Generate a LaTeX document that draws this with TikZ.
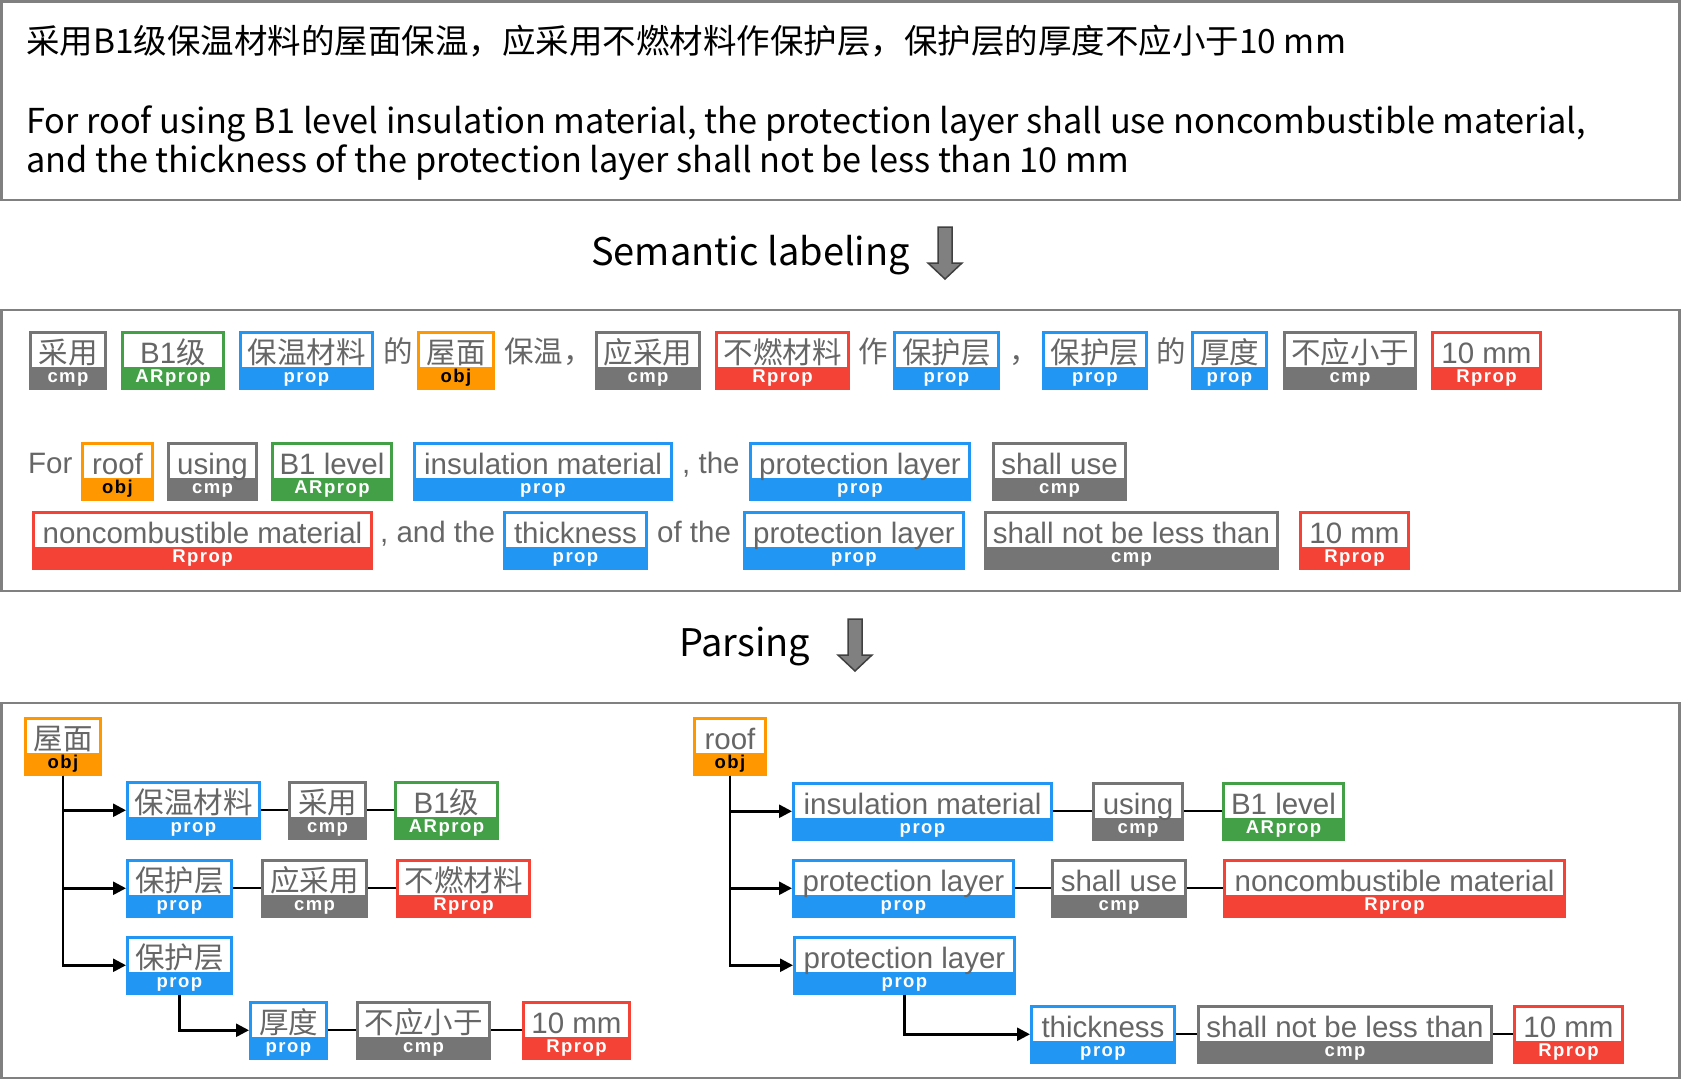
\documentclass[tikz,border=0pt]{standalone}
\usepackage{fontspec}
\setmainfont{Noto Sans CJK SC}
\newfontfamily\cjk{Noto Sans CJK SC}
\newfontfamily\tagfont{Liberation Sans}
\newfontfamily\bandfont[LetterSpace=8]{Liberation Sans}
\usetikzlibrary{shapes.multipart, arrows.meta, calc}
\definecolor{cmpColor}{HTML}{757575}
\definecolor{propColor}{HTML}{2196F3}
\definecolor{ARpropColor}{HTML}{43A047}
\definecolor{RpropColor}{HTML}{F44336}
\definecolor{objColor}{HTML}{FF9800}
\colorlet{cmpLabel}{white}
\colorlet{propLabel}{white}
\colorlet{ARpropLabel}{white}
\colorlet{RpropLabel}{white}
\colorlet{objLabel}{black}
\definecolor{wordGray}{HTML}{666666}
\definecolor{frameGray}{HTML}{808080}
\newcommand{\zh}[1]{{\cjk #1}}
\newcommand{\tagText}{\tagfont\fontsize{29.5}{30}\selectfont\color{wordGray}\rule[-3pt]{0pt}{32.5pt}}
\newcommand{\bandText}{\bandfont\bfseries\fontsize{18.5}{19}\selectfont\rule[-4.5pt]{0pt}{17pt}}
% name, kind, left x, top y, width, text
\newcommand{\semtag}[6]{%
  \node[tagBox, draw=#2Color, rectangle split part fill={white,#2Color},
    minimum width=#5pt-3pt, anchor=north west] (#1) at (#3,#4)
    {\tagText\smash{#6}\nodepart{two}\bandText\smash{\textcolor{#2Label}{#2}}};
}
\tikzstyle{tagBox}=[rectangle split, rectangle split parts=2, line width=3pt,
  inner xsep=0pt, inner ysep=0pt]
\tikzstyle{word}=[inner sep=0pt, text=wordGray, font=\tagfont\fontsize{29.5}{30}\selectfont]
\tikzstyle{zhWord}=[word, font=\cjk\fontsize{29.5}{30}\selectfont]
\tikzstyle{frame}=[draw=frameGray, line width=2.5pt]
\tikzstyle{heading}=[inner sep=0pt, anchor=base west, font=\fontsize{38}{40}\selectfont]
\tikzstyle{tagLine}=[line width=2pt]
\tikzstyle{treeArrow}=[-{Triangle[length=13pt,width=13pt]}, line width=2.5pt]
\tikzstyle{blockArrow}=[fill=frameGray, draw=black!75, line width=1.5pt, line join=miter]

\begin{document}
\begin{tikzpicture}[x=1pt, y=-1pt]
  \useasboundingbox (0,0) rectangle (1681,1080);

  % frames
  \draw[frame] (1.25,1.25) rectangle (1679.5,200);
  \draw[frame] (1.25,310) rectangle (1679.5,591);
  \draw[frame] (1.25,703) rectangle (1679.5,1078);

  % sentence
  \node[anchor=base west, inner sep=0pt, font=\fontsize{33.5}{40}\selectfont] (sentZh) at (26,53)
    {采用B1级保温材料的屋面保温，应采用不燃材料作保护层，保护层的厚度不应小于10 mm};
  \node[anchor=base west, inner sep=0pt, align=left, font=\fontsize{34.3}{39}\selectfont] (sentEn) at (26,172)
    {For roof using B1 level insulation material, the protection layer shall use noncombustible material,\\
     and the thickness of the protection layer shall not be less than 10 mm};

  % steps
  \node[heading] (semLabel) at (591,265) {Semantic labeling};
  \node[heading] (parseLabel) at (679,656) {Parsing};
  \coordinate (semArrow) at (945,227);
  \coordinate (parseArrow) at (855,619);
  \foreach \c in {semArrow, parseArrow}{
    \draw[blockArrow] (\c) ++(-7,0) -- ++(0,36) -- ++(-10,0) -- ++(17,16)
      -- ++(17,-16) -- ++(-10,0) -- ++(0,-36) -- cycle;
  }

  % labeling, chinese
  \semtag{zAdopt}{cmp}{29}{331}{78}{\zh{采用}}
  \semtag{zB1}{ARprop}{121}{331}{104}{B1\zh{级}}
  \semtag{zInsul}{prop}{239}{331}{135}{\zh{保温材料}}
  \node[zhWord, anchor=base] (zDe) at (398,362) {的};
  \semtag{zRoof}{obj}{417}{331}{78}{\zh{屋面}}
  \node[zhWord, anchor=base west] (zKeep) at (504,362) {保温，};
  \semtag{zShallAdopt}{cmp}{595}{331}{106}{\zh{应采用}}
  \semtag{zNoncomb}{Rprop}{715}{331}{135}{\zh{不燃材料}}
  \node[zhWord, anchor=base] (zAs) at (873,362) {作};
  \semtag{zProtA}{prop}{893}{331}{107}{\zh{保护层}}
  \node[zhWord, anchor=base west] (zComma) at (1009,362) {，};
  \semtag{zProtB}{prop}{1042}{331}{106}{\zh{保护层}}
  \node[zhWord, anchor=base] (zDeB) at (1171,362) {的};
  \semtag{zThick}{prop}{1191}{331}{77}{\zh{厚度}}
  \semtag{zNotLess}{cmp}{1283}{331}{134}{\zh{不应小于}}
  \semtag{zTen}{Rprop}{1431}{331}{111}{10 mm}

  % labeling, english
  \node[word, anchor=base west] (eFor) at (28,473) {For};
  \semtag{eRoof}{obj}{81}{442}{73}{roof}
  \semtag{eUsing}{cmp}{167}{442}{91}{using}
  \semtag{eB1}{ARprop}{271}{442}{122}{B1 level}
  \semtag{eInsul}{prop}{413}{442}{260}{insulation material}
  \node[word, anchor=base west] (eThe) at (682,473) {, the};
  \semtag{eProtA}{prop}{749}{442}{222}{protection layer}
  \semtag{eShallUse}{cmp}{992}{442}{135}{shall use}

  \semtag{eNoncomb}{Rprop}{32}{511}{341}{noncombustible material}
  \node[word, anchor=base west] (eAndThe) at (380,542) {, and the};
  \semtag{eThick}{prop}{503}{511}{145}{thickness}
  \node[word, anchor=base west] (eOfThe) at (657,542) {of the};
  \semtag{eProtB}{prop}{743}{511}{222}{protection layer}
  \semtag{eNotLess}{cmp}{984}{511}{295}{shall not be less than}
  \semtag{eTen}{Rprop}{1299}{511}{111}{10 mm}

  % parsing, chinese
  \semtag{tRoofZ}{obj}{24}{717}{78}{\zh{屋面}}
  \semtag{tInsulZ}{prop}{126}{781}{135}{\zh{保温材料}}
  \semtag{tAdoptZ}{cmp}{288}{781}{79}{\zh{采用}}
  \semtag{tB1Z}{ARprop}{394}{781}{105}{B1\zh{级}}
  \semtag{tProtAZ}{prop}{126}{859}{107}{\zh{保护层}}
  \semtag{tShallZ}{cmp}{261}{859}{107}{\zh{应采用}}
  \semtag{tNoncombZ}{Rprop}{396}{859}{135}{\zh{不燃材料}}
  \semtag{tProtBZ}{prop}{126}{936}{107}{\zh{保护层}}
  \semtag{tThickZ}{prop}{249}{1001}{79}{\zh{厚度}}
  \semtag{tNotLessZ}{cmp}{356}{1001}{135}{\zh{不应小于}}
  \semtag{tTenZ}{Rprop}{522}{1001}{109}{10 mm}

  % parsing, english
  \semtag{tRoofE}{obj}{693}{717}{74}{roof}
  \semtag{tInsulE}{prop}{792}{782}{261}{insulation material}
  \semtag{tUsingE}{cmp}{1092}{782}{92}{using}
  \semtag{tB1E}{ARprop}{1222}{782}{123}{B1 level}
  \semtag{tProtAE}{prop}{792}{859}{223}{protection layer}
  \semtag{tShallUseE}{cmp}{1051}{859}{136}{shall use}
  \semtag{tNoncombE}{Rprop}{1223}{859}{343}{noncombustible material}
  \semtag{tProtBE}{prop}{793}{936}{223}{protection layer}
  \semtag{tThickE}{prop}{1030}{1005}{146}{thickness}
  \semtag{tNotLessE}{cmp}{1197}{1005}{296}{shall not be less than}
  \semtag{tTenE}{Rprop}{1513}{1005}{111}{10 mm}

  \foreach \a/\b in {tInsulZ/tAdoptZ, tAdoptZ/tB1Z, tProtAZ/tShallZ, tShallZ/tNoncombZ,
      tThickZ/tNotLessZ, tNotLessZ/tTenZ, tInsulE/tUsingE, tUsingE/tB1E,
      tProtAE/tShallUseE, tShallUseE/tNoncombE, tThickE/tNotLessE, tNotLessE/tTenE}{
    \draw[tagLine] (\a.east) -- (\a.east -| \b.west);
  }
  \foreach \r/\b in {tRoofZ/tInsulZ, tRoofZ/tProtAZ, tRoofZ/tProtBZ,
      tRoofE/tInsulE, tRoofE/tProtAE, tRoofE/tProtBE}{
    \draw[treeArrow] (\r.south) |- (\b.west);
  }
  \draw[treeArrow] (tProtBZ.south) |- (tThickZ.west);
  \draw[treeArrow] (tProtBE.south) |- (tThickE.west);
\end{tikzpicture}
\end{document}
